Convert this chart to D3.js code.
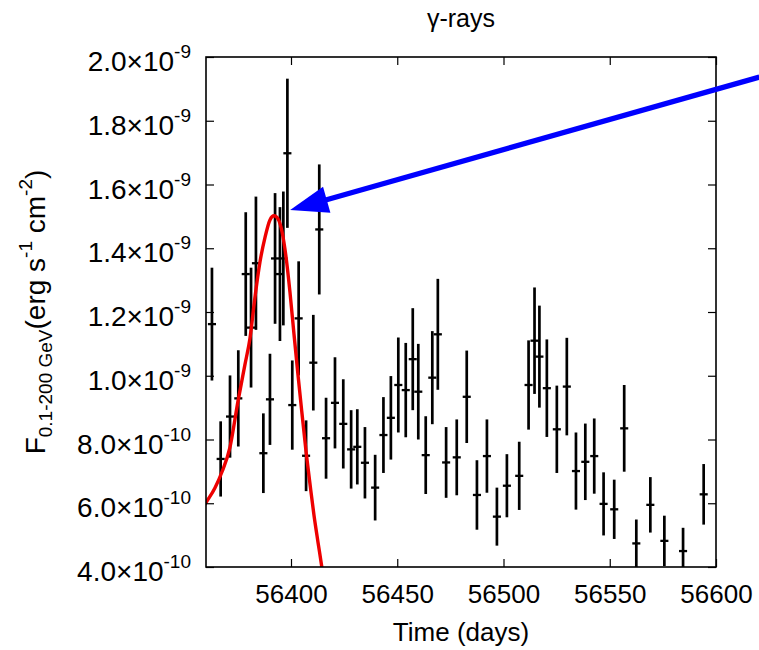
<!DOCTYPE html>
<html><head><meta charset="utf-8">
<script src="https://cdn.jsdelivr.net/npm/d3@7"></script>
<style>
body{margin:0;background:#fff;}
svg{display:block;font-family:"Liberation Sans",Arial,Helvetica,sans-serif;}
</style>
</head><body>
<svg id="chart" width="759" height="650"></svg>
<script>
// ---- data (flux in units of 1e-10 erg s^-1 cm^-2) ----
const days = [56362.8,56366.9,56371.3,56375.2,56378.7,56381.2,56383.5,56387.0,56390.1,56392.5,
  56394.8,56396.4,56398.3,56400.6,56403.6,56407.1,56410.5,56413.3,56416.5,56420.7,
  56424.6,56428.3,56431.2,56434.8,56439.6,56443.5,56447.0,56450.5,56454.0,56457.3,
  56459.9,56463.4,56466.5,56469.1,56473.0,56478.0,56482.7,56487.5,56492.2,56496.9,
  56501.6,56507.4,56511.8,56514.6,56516.9,56520.4,56525.1,56529.8,56534.1,56538.5,
  56542.7,56547.1,56552.1,56556.8,56562.5,56569.1,56575.7,56584.5,56594.2];
const flux = [11.62,7.39,8.72,9.29,13.19,11.51,13.53,7.57,9.26,13.68,
  13.19,13.68,16.98,9.08,11.80,7.49,10.41,14.59,8.04,9.15,
  8.49,7.69,7.77,7.27,6.49,8.14,8.68,9.71,9.55,10.52,
  9.50,7.51,9.94,11.30,7.28,7.44,9.34,6.26,7.48,5.58,
  6.55,6.86,9.71,11.10,10.60,9.61,8.32,9.66,7.01,7.30,
  7.48,5.98,5.81,8.35,4.74,5.95,4.82,4.50,6.28];
const fluxErr = [1.77,1.18,1.29,1.51,1.94,1.88,2.09,1.25,1.43,2.05,
  2.10,2.10,2.34,1.40,1.79,1.11,1.50,2.04,1.27,1.43,
  1.40,1.23,1.18,1.12,1.03,1.19,1.31,1.49,1.48,1.60,
  1.50,1.22,1.46,1.74,1.11,1.19,1.45,1.09,1.15,0.91,
  0.99,1.07,1.40,1.67,1.60,1.53,1.37,1.53,1.21,1.20,
  1.18,0.99,0.93,1.36,0.75,0.87,0.79,0.73,0.95];
const dayErr = 1.9;

// flare fit curve
const fitDays = [56356.0,56360.3,56364.2,56367.5,56371.3,56375.0,56378.3,56380.7,56383.0,56385.4,
  56387.8,56390.1,56392.0,56393.9,56395.8,56397.6,56399.5,56401.4,56403.3,56405.2,
  56407.1,56409.0,56410.8,56412.7,56414.5,56416.0];
const fitFlux = [5.60,6.05,6.48,6.98,7.76,9.18,10.34,11.18,12.44,13.57,
  14.35,14.89,15.02,14.92,14.51,13.76,12.63,11.31,10.02,8.80,
  7.61,6.57,5.63,4.78,4.00,3.28];

const xTicks = [56400,56450,56500,56550,56600];
const yTicks = [4,6,8,10,12,14,16,18,20];
const yTickMantissa = ["4.0","6.0","8.0","1.0","1.2","1.4","1.6","1.8","2.0"];
const yTickExponent = ["-10","-10","-10","-9","-9","-9","-9","-9","-9"];
const arrowFrom = {day:56620.4, flux:19.37};
const arrowTo = {day:56399.6, flux:15.20};
const chartTitle = "γ-rays";
const xTitle = "Time (days)";

// ---- layout ----
const svg = d3.select("#chart");
const L = 206, R = 716, T = 57, B = 567;
const x = d3.scaleLinear().domain([56360, 56600]).range([L, R]);
const y = d3.scaleLinear().domain([4, 20]).range([B, T]);

svg.append("defs").append("clipPath").attr("id","plotclip")
  .append("rect").attr("x",L).attr("y",T).attr("width",R-L).attr("height",B-T);

// error bars
const pts = days.map((d,i)=>({d, f:flux[i], e:fluxErr[i]}));
const eb = svg.append("g").attr("clip-path","url(#plotclip)")
  .attr("stroke","#000").attr("stroke-width",2.7).attr("fill","none");
eb.selectAll("line.v").data(pts).join("line").attr("class","v")
  .attr("x1",p=>x(p.d)).attr("x2",p=>x(p.d))
  .attr("y1",p=>y(p.f-p.e)).attr("y2",p=>y(p.f+p.e));
eb.selectAll("line.h").data(pts).join("line").attr("class","h")
  .attr("stroke-width",2.3)
  .attr("x1",p=>x(p.d-dayErr)).attr("x2",p=>x(p.d+dayErr))
  .attr("y1",p=>y(p.f)).attr("y2",p=>y(p.f));

// fit curve
const fit = fitDays.map((d,i)=>[d, fitFlux[i]]);
svg.append("path").datum(fit).attr("clip-path","url(#plotclip)")
  .attr("fill","none").attr("stroke","#ee0000").attr("stroke-width",3.4)
  .attr("stroke-linejoin","round")
  .attr("d", d3.line().x(p=>x(p[0])).y(p=>y(p[1])).curve(d3.curveMonotoneX));

// axes (inward ticks)
const tickLen = 8;
const gb = svg.append("g").attr("transform",`translate(0,${B})`)
  .call(d3.axisBottom(x).tickValues(xTicks).tickSize(-tickLen).tickSizeOuter(0).tickPadding(17.5).tickFormat(d3.format("d")));
const gt = svg.append("g").attr("transform",`translate(0,${T})`)
  .call(d3.axisTop(x).tickValues(xTicks).tickSize(-tickLen).tickSizeOuter(0).tickFormat(""));
const gl = svg.append("g").attr("transform",`translate(${L},0)`)
  .call(d3.axisLeft(y).tickValues(yTicks).tickSize(-tickLen).tickSizeOuter(0).tickPadding(12));
const gr = svg.append("g").attr("transform",`translate(${R},0)`)
  .call(d3.axisRight(y).tickValues(yTicks).tickSize(-tickLen).tickSizeOuter(0).tickFormat(""));
[gb,gt,gl,gr].forEach(g=>{
  g.select(".domain").remove();
  g.selectAll(".tick line").attr("stroke","#000").attr("stroke-width",1.2);
  g.selectAll("text").attr("font-family",null).attr("font-size",null);
});
gb.selectAll("text").attr("font-size",26).attr("fill","#000").attr("dy","0.71em");
gl.selectAll(".tick text").each(function(d,i){
  const t = d3.select(this);
  t.text(null).attr("font-size",28).attr("fill","#000").attr("dy",null)
   .attr("x",-15).attr("y",13.5).attr("text-anchor","end");
  t.append("tspan").text(yTickMantissa[i] + "\u00d710");
  t.append("tspan").attr("font-size",19).attr("dy",-13).text(yTickExponent[i]);
});

// frame
svg.append("rect").attr("x",L).attr("y",T).attr("width",R-L).attr("height",B-T)
  .attr("fill","none").attr("stroke","#000").attr("stroke-width",1.6);

// arrow annotation
const ax0 = x(arrowFrom.day), ay0 = y(arrowFrom.flux);
const ax1 = x(arrowTo.day), ay1 = y(arrowTo.flux);
const len = Math.hypot(ax0-ax1, ay0-ay1);
const ux = (ax0-ax1)/len, uy = (ay0-ay1)/len, nx = -uy, ny = ux;
const headL = 38, headW = 13.5;
svg.append("line").attr("x1",ax0).attr("y1",ay0)
  .attr("x2",ax1+ux*headL*0.9).attr("y2",ay1+uy*headL*0.9)
  .attr("stroke","#0000ff").attr("stroke-width",5.2);
svg.append("polygon").attr("fill","#0000ff")
  .attr("points",[[ax1,ay1],[ax1+ux*headL+nx*headW, ay1+uy*headL+ny*headW],
                  [ax1+ux*headL-nx*headW, ay1+uy*headL-ny*headW]].map(p=>p.join(",")).join(" "));

// titles
svg.append("text").attr("x",(L+R)/2).attr("y",27).attr("text-anchor","middle")
  .attr("font-size",25).attr("fill","#000").text(chartTitle);
svg.append("text").attr("x",(L+R)/2).attr("y",641).attr("text-anchor","middle")
  .attr("font-size",26).attr("fill","#000").text(xTitle);
const yt = svg.append("text").attr("transform",`translate(45,${(T+B)/2}) rotate(-90)`)
  .attr("text-anchor","middle").attr("font-size",28).attr("fill","#000");
yt.append("tspan").text("F");
yt.append("tspan").attr("font-size",19).attr("dy",7).text("0.1-200 GeV");
yt.append("tspan").attr("dy",-7).text("(erg s");
yt.append("tspan").attr("font-size",19).attr("dy",-13).text("-1");
yt.append("tspan").attr("dy",13).text(" cm");
yt.append("tspan").attr("font-size",19).attr("dy",-13).text("-2");
yt.append("tspan").attr("dy",13).text(")");
</script>
</body></html>
